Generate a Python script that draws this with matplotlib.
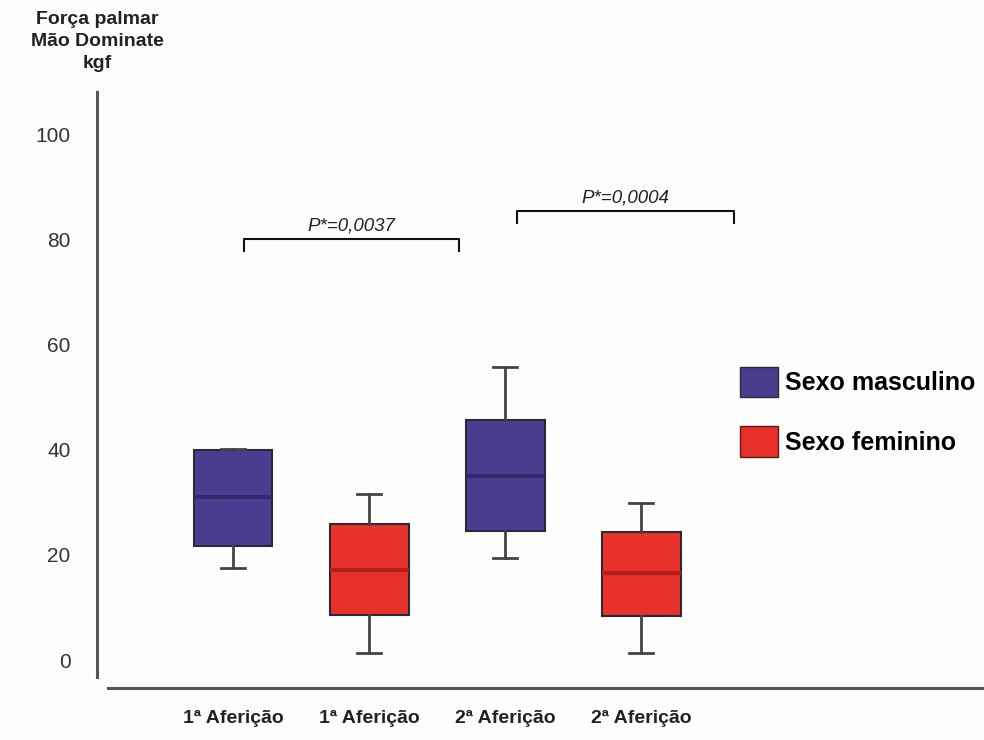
import matplotlib.pyplot as plt
from matplotlib.patches import Patch

# Dados (kgf)
grupos = ['1ª Aferição', '1ª Aferição', '2ª Aferição', '2ª Aferição']
sexo = ['M', 'F', 'M', 'F']
minimo = [17.5, 1.3, 19.4, 1.3]
q1 = [21.7, 8.6, 24.5, 8.4]
mediana = [31.0, 17.1, 35.0, 16.5]
q3 = [40.0, 25.9, 45.6, 24.3]
maximo = [40.2, 31.6, 55.7, 29.8]

p_textos = ['P*=0,0037', 'P*=0,0004']
p_inicio = [1.08, 3.09]
p_fim = [2.66, 4.68]
p_altura = [80.0, 85.4]

cor = {'M': '#4a3d8f', 'F': '#e8312b'}
cor_med = {'M': '#33276e', 'F': '#b5201d'}

plt.rcParams['font.family'] = ['Liberation Sans', 'DejaVu Sans']

fig = plt.figure(figsize=(9.84, 7.4), dpi=100, facecolor='#fdfdfb')
H = 740
W = 984
ax = fig.add_axes([97 / W, 1 - 688 / H, (984 - 97) / W, (688 - 92) / H])
ax.set_facecolor('#fdfdfb')

stats = []
for i in range(len(grupos)):
    stats.append({'med': mediana[i], 'q1': q1[i], 'q3': q3[i],
                  'whislo': minimo[i], 'whishi': maximo[i], 'fliers': []})

pos = [1, 2, 3, 4]
bp = ax.bxp(stats, positions=pos, widths=0.58, patch_artist=True,
            showfliers=False, capwidths=0.18,
            whiskerprops=dict(color='#444444', lw=2),
            capprops=dict(color='#444444', lw=2),
            boxprops=dict(edgecolor='#2a2a35', lw=1.5))
for i, caixa in enumerate(bp['boxes']):
    caixa.set_facecolor(cor[sexo[i]])
    bp['medians'][i].set_color(cor_med[sexo[i]])
    bp['medians'][i].set_linewidth(3)

# colchetes de significancia
for i in range(len(p_textos)):
    a, b, h = p_inicio[i], p_fim[i], p_altura[i]
    ax.plot([a, a, b, b], [h - 2.3, h, h, h - 2.3], color='#111111', lw=1.5)
    ax.text((a + b) / 2, h + 0.9, p_textos[i], ha='center', va='bottom',
            fontsize=13.5, style='italic', color='#222222')

ax.set_xlim(0, 6.52)
ax.set_ylim(-5.3, 108)
ax.set_yticks([0, 20, 40, 60, 80, 100])
ax.set_xticks(pos)
ax.set_xticklabels(grupos, fontweight='bold', fontsize=14)
ax.tick_params(axis='y', length=0, pad=19, labelsize=15, labelcolor='#333333')
ax.tick_params(axis='x', length=0, pad=16, labelcolor='#222222')

for s in ['top', 'right']:
    ax.spines[s].set_visible(False)
ax.spines['left'].set_bounds(-3.2, 108)
ax.spines['left'].set_color('#555555')
ax.spines['left'].set_linewidth(2.2)
ax.spines['bottom'].set_bounds(0.08, 6.52)
ax.spines['bottom'].set_color('#555555')
ax.spines['bottom'].set_linewidth(2.2)

fig.text(97 / W, 1 - 11 / H, 'Força palmar\nMão Dominate\nkgf', ha='center', va='top',
         fontsize=14, fontweight='bold', color='#222222', linespacing=1.4)

handles = [Patch(facecolor=cor['M'], edgecolor='#2a2a35', label='Sexo masculino'),
           Patch(facecolor=cor['F'], edgecolor='#5a1a1a', label='Sexo feminino')]
fig.legend(handles=handles, loc='upper left', bbox_to_anchor=(740 / W, 1 - 367 / H),
           frameon=False, handlelength=1.52, handleheight=1.5, borderpad=0,
           borderaxespad=0, handletextpad=0.28, labelspacing=1.15,
           prop={'weight': 'bold', 'size': 18})

fig.savefig('out.png', dpi=100, facecolor=fig.get_facecolor())
